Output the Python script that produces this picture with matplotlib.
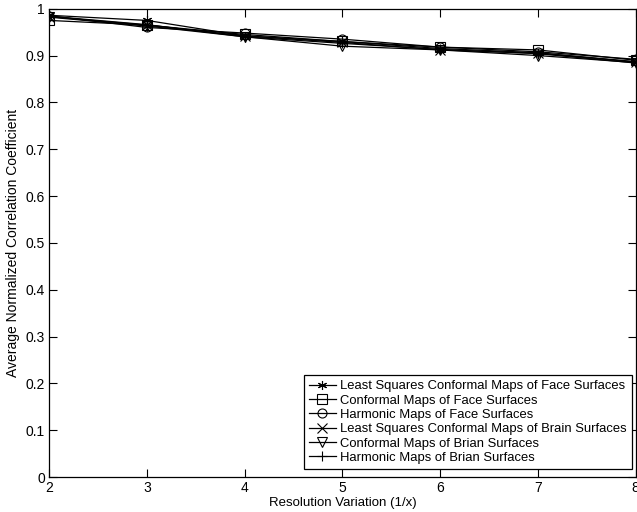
import matplotlib
matplotlib.use('Agg')
import matplotlib.pyplot as plt

plt.rcParams['font.family'] = ['Liberation Sans', 'DejaVu Sans']

# 해상도 변화 (1/x)
resolution = [2, 3, 4, 5, 6, 7, 8]

# 각 방법별 평균 정규화 상관계수
lscm_face = [0.986, 0.975, 0.942, 0.930, 0.915, 0.906, 0.887]
conformal_face = [0.975, 0.965, 0.945, 0.930, 0.918, 0.912, 0.890]
harmonic_face = [0.985, 0.960, 0.948, 0.935, 0.918, 0.908, 0.892]
lscm_brain = [0.983, 0.965, 0.942, 0.928, 0.912, 0.905, 0.886]
conformal_brain = [0.982, 0.963, 0.940, 0.920, 0.912, 0.900, 0.885]
harmonic_brain = [0.984, 0.966, 0.940, 0.926, 0.913, 0.904, 0.884]

labels = ['Least Squares Conformal Maps of Face Surfaces',
          'Conformal Maps of Face Surfaces',
          'Harmonic Maps of Face Surfaces',
          'Least Squares Conformal Maps of Brain Surfaces',
          'Conformal Maps of Brian Surfaces',
          'Harmonic Maps of Brian Surfaces']
series = [lscm_face, conformal_face, harmonic_face,
          lscm_brain, conformal_brain, harmonic_brain]
# MATLAB 스타일 마커: 별표(asterisk), 사각형, 원, x, 역삼각형, +
markers = [(6, 2, 0), 's', 'o', 'x', 'v', '+']

fig = plt.figure(figsize=(6.37, 5.12), dpi=100)
ax = fig.add_axes([0.077, 0.068, 0.921, 0.915])

for vals, lab, m in zip(series, labels, markers):
    ax.plot(resolution, vals, color='black', linewidth=0.9, marker=m,
            markersize=6.5, markerfacecolor='none', markeredgecolor='black',
            markeredgewidth=0.8, label=lab)

ax.set_xlim(2, 8)
ax.set_ylim(0, 1)
ax.set_xticks(resolution)
ax.set_yticks([i / 10 for i in range(11)])
ax.set_yticklabels(['0', '0.1', '0.2', '0.3', '0.4', '0.5', '0.6', '0.7', '0.8', '0.9', '1'])
ax.tick_params(direction='in', length=6, labelsize=10, top=True, right=True, pad=3)
for s in ax.spines.values():
    s.set_linewidth(0.9)
ax.set_xlabel('Resolution Variation (1/x)', fontsize=9.5, labelpad=1)
ax.set_ylabel('Average Normalized Correlation Coefficient', fontsize=10, labelpad=4)

leg = ax.legend(loc='lower right', bbox_to_anchor=(0.993, 0.017), fontsize=9.4,
                fancybox=False, framealpha=1, edgecolor='black',
                borderpad=0.4, labelspacing=0.17, handlelength=2.05,
                handletextpad=0.3, borderaxespad=0)
leg.get_frame().set_linewidth(0.9)

fig.savefig('out.png', dpi=100)
